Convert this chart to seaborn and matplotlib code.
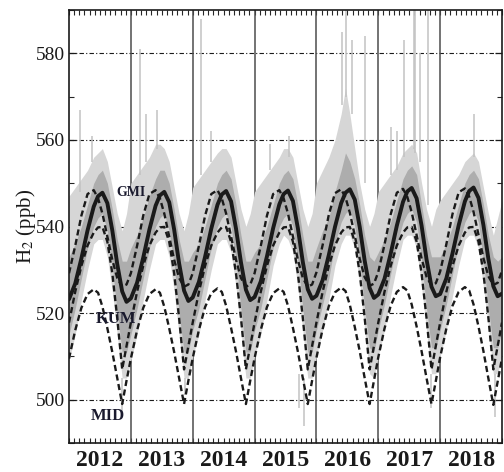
import numpy as np
import matplotlib
matplotlib.use('Agg')
import matplotlib.pyplot as plt
import seaborn as sns
from matplotlib.ticker import MultipleLocator

# time axis: 12 knots per year (fractions of the year), 2012-2018 + end point
years = [2012, 2013, 2014, 2015, 2016, 2017, 2018]
knots = [0.0, 0.1, 0.2, 0.3, 0.4, 0.47, 0.54, 0.62, 0.70, 0.78, 0.86, 0.93]

# thick black curve: fit to GMI observations (ppb)
gmi_fit = [
    [523.2, 526.8, 532.6, 539.1, 544.6, 547.0, 547.8, 545.4, 539.1, 531.3, 525.0, 522.6],
    [523.4, 527.0, 532.8, 539.3, 544.8, 547.2, 548.0, 545.6, 539.3, 531.5, 525.2, 522.8],
    [523.6, 527.2, 533.0, 539.5, 545.0, 547.4, 548.2, 545.8, 539.5, 531.7, 525.4, 523.0],
    [523.7, 527.3, 533.1, 539.6, 545.1, 547.5, 548.3, 545.9, 539.6, 531.8, 525.5, 523.3],
    [524.0, 527.6, 533.4, 539.9, 545.4, 547.8, 548.6, 546.2, 539.9, 532.1, 525.8, 523.5],
    [524.3, 527.9, 533.7, 540.2, 545.7, 548.1, 548.9, 546.5, 540.2, 532.4, 526.1, 523.9],
    [524.4, 528.0, 533.8, 540.3, 545.8, 548.2, 549.0, 546.6, 540.3, 532.5, 526.2, 523.9],
]
gmi_fit_end = 524.5

# dashed curves
gmi_dash = [
    [529.2, 535.5, 542.5, 547.5, 548.4, 546.5, 543.0, 537.7, 532.3, 528.1, 526.1, 526.6],
    [529.2, 535.5, 542.5, 547.5, 548.4, 546.5, 543.0, 537.7, 532.3, 528.1, 526.1, 526.6],
    [529.2, 535.5, 542.5, 547.5, 548.4, 546.5, 543.0, 537.7, 532.3, 528.1, 526.1, 526.6],
    [529.2, 535.5, 542.5, 547.5, 548.4, 546.5, 543.0, 537.7, 532.3, 528.1, 526.1, 526.6],
    [529.4, 535.7, 542.7, 547.7, 548.6, 546.7, 543.2, 537.9, 532.5, 528.3, 526.3, 526.8],
    [529.5, 535.8, 542.8, 547.8, 548.7, 546.8, 543.3, 538.0, 532.6, 528.4, 526.4, 526.9],
    [529.6, 535.9, 542.9, 547.9, 548.8, 546.9, 543.4, 538.1, 532.7, 528.5, 526.5, 527.0],
]
gmi_dash_end = 529.8

kum_dash = [
    [517.8, 524.9, 530.9, 535.6, 538.6, 539.8, 539.9, 536.5, 529.2, 518.9, 507.0, 512.4],
    [517.8, 524.9, 530.9, 535.6, 538.6, 539.8, 539.9, 536.5, 529.2, 518.9, 507.0, 512.4],
    [517.8, 524.9, 530.9, 535.6, 538.6, 539.8, 539.9, 536.5, 529.2, 518.9, 507.0, 512.4],
    [517.8, 524.9, 530.9, 535.6, 538.6, 539.8, 539.9, 536.5, 529.2, 518.9, 507.0, 512.4],
    [517.8, 524.9, 530.9, 535.6, 538.6, 539.8, 539.9, 536.5, 529.2, 518.9, 507.0, 512.4],
    [517.8, 524.9, 530.9, 535.6, 538.6, 539.8, 539.9, 536.5, 529.2, 518.9, 507.0, 512.4],
    [517.8, 524.9, 530.9, 535.6, 538.6, 539.8, 539.9, 536.5, 529.2, 518.9, 507.0, 512.4],
]
kum_dash_end = 517.8

mid_dash = [
    [509.5, 516.0, 521.2, 524.4, 525.5, 524.7, 521.5, 516.5, 511.0, 505.0, 499.0, 504.4],
    [509.5, 516.0, 521.2, 524.4, 525.5, 524.7, 521.5, 516.5, 511.0, 505.0, 499.0, 504.4],
    [509.6, 516.1, 521.4, 524.6, 525.7, 524.9, 521.7, 516.6, 511.1, 505.0, 499.0, 504.4],
    [509.6, 516.1, 521.4, 524.6, 525.7, 524.9, 521.7, 516.6, 511.1, 505.0, 499.0, 504.4],
    [509.7, 516.3, 521.6, 524.8, 525.9, 525.1, 521.9, 516.8, 511.2, 505.0, 499.0, 504.4],
    [509.8, 516.4, 521.7, 524.9, 526.0, 525.2, 522.0, 516.9, 511.2, 505.0, 499.0, 504.3],
    [509.8, 516.4, 521.7, 524.9, 526.0, 525.2, 522.0, 516.9, 511.2, 504.9, 498.8, 504.2],
]
mid_dash_end = 509.6

# grey observations: outer envelope and dense core
obs_hi = [
    [547, 549, 551, 553, 556, 557, 558, 555, 549, 543, 539, 543],
    [550, 552, 554, 556, 559, 559, 558, 555, 549, 543, 539, 543],
    [549, 551, 553, 555, 557, 558, 558, 556, 550, 544, 540, 543],
    [548, 550, 552, 554, 556, 558, 558, 556, 550, 544, 540, 543],
    [550, 553, 556, 560, 566, 572, 566, 558, 550, 544, 540, 543],
    [548, 550, 552, 554, 557, 558, 559, 557, 550, 544, 540, 544],
    [546, 548, 550, 552, 555, 556, 557, 555, 549, 543, 538, 542],
]
obs_hi_end = 546
obs_lo = [
    [509, 515, 523, 530, 536, 537, 537, 533, 525, 515, 505, 505],
    [509, 515, 523, 530, 536, 537, 537, 533, 525, 515, 505, 505],
    [510, 515, 523, 530, 536, 537, 537, 534, 526, 516, 505, 505],
    [510, 515, 523, 531, 536, 538, 537, 534, 526, 516, 505, 505],
    [510, 516, 523, 531, 536, 538, 538, 535, 527, 516, 506, 505],
    [510, 516, 524, 531, 537, 538, 538, 535, 526, 516, 506, 506],
    [510, 516, 524, 531, 537, 538, 538, 535, 526, 517, 506, 506],
]
obs_lo_end = 510
core_hi = [
    [533, 536, 540, 545, 550, 552, 553, 550, 544, 537, 532, 532],
    [535, 538, 542, 547, 551, 553, 553, 550, 544, 537, 532, 532],
    [534, 536, 540, 545, 550, 552, 553, 551, 545, 538, 532, 532],
    [534, 536, 540, 545, 550, 552, 553, 551, 545, 538, 532, 532],
    [535, 539, 542, 548, 553, 557, 555, 551, 545, 538, 533, 532],
    [534, 537, 541, 546, 551, 553, 554, 552, 545, 538, 533, 533],
    [533, 536, 540, 545, 550, 552, 553, 551, 545, 538, 533, 532],
]
core_hi_end = 533
core_lo = [
    [515, 521, 528, 535, 540, 542, 543, 539, 531, 520, 511, 511],
    [515, 521, 528, 535, 540, 542, 543, 539, 531, 520, 511, 511],
    [516, 521, 528, 535, 540, 542, 543, 540, 532, 521, 511, 511],
    [516, 521, 528, 535, 540, 542, 543, 540, 532, 521, 511, 511],
    [516, 522, 528, 536, 541, 543, 544, 540, 532, 521, 512, 511],
    [516, 522, 529, 536, 541, 543, 544, 541, 532, 521, 512, 512],
    [516, 522, 529, 536, 541, 543, 544, 541, 532, 521, 512, 512],
]
core_lo_end = 516

# isolated spikes in the observations (time, from, to)
spike_x = [2012.18, 2012.37, 2013.15, 2013.25, 2013.43, 2014.13, 2014.30, 2015.25,
           2015.55, 2016.42, 2016.47, 2016.57, 2016.78, 2017.20, 2017.30, 2017.42,
           2017.57, 2017.60, 2017.67, 2017.81, 2018.55,
           2012.85, 2013.88, 2015.72, 2015.80, 2017.85, 2018.89]
spike_from = [548, 555, 552, 555, 558, 552, 555, 553,
              556, 568, 570, 566, 550, 552, 553, 556,
              558, 557, 555, 545, 556,
              505, 505, 506, 505, 506, 506]
spike_to = [567, 561, 581, 566, 567, 588, 562, 559,
            561, 585, 592, 583, 584, 563, 562, 583,
            592, 592, 580, 592, 566,
            497, 501, 498, 494, 498, 496]


def flat(rows, end):
    return np.array([v for row in rows for v in row] + [end])


t = np.array([y + k for y in years for k in knots] + [2019.0])

sns.set_theme(style='ticks')
plt.rcParams['font.family'] = ['Liberation Serif', 'DejaVu Serif']
plt.rcParams['mathtext.fontset'] = 'stix'

fig = plt.figure(figsize=(5.04, 4.72), dpi=100)
ax = fig.add_axes([69 / 504, 29 / 472, 433 / 504, 433 / 472])

# reference lines
for v in [500, 520, 540, 560, 580]:
    ax.axhline(v, color='k', lw=0.8, ls=(0, (4, 2, 1, 2)), zorder=1)
for y in years[1:]:
    ax.axvline(y, color='#4d4d4d', lw=1.1, zorder=1)

# grey observations
ax.fill_between(t, flat(obs_lo, obs_lo_end), flat(obs_hi, obs_hi_end),
                color='#d6d6d6', lw=0, zorder=2)
ax.fill_between(t, flat(core_lo, core_lo_end), flat(core_hi, core_hi_end),
                color='#adadad', lw=0, zorder=2.1)
ax.vlines(spike_x, spike_from, spike_to, color='#c2c2c2', lw=1.1, zorder=2)

dash = (0, (2.6, 1.5))
sns.lineplot(x=t, y=flat(gmi_dash, gmi_dash_end), color='k', lw=1.7, linestyle=dash, ax=ax, zorder=3)
sns.lineplot(x=t, y=flat(kum_dash, kum_dash_end), color='k', lw=1.7, linestyle=dash, ax=ax, zorder=3)
sns.lineplot(x=t, y=flat(mid_dash, mid_dash_end), color='k', lw=1.7, linestyle=dash, ax=ax, zorder=3)
sns.lineplot(x=t, y=flat(gmi_fit, gmi_fit_end), color='k', lw=2.8, ax=ax, zorder=4)

lab_col = '#1a1a2e'
ax.text(2012.999, 547.8, 'GMI', ha='center', va='center', fontsize=10,
        fontweight='bold', color=lab_col, zorder=5)
ax.text(2012.757, 518.6, 'KUM', ha='center', va='center', fontsize=12,
        fontweight='bold', color=lab_col, zorder=5)
ax.text(2012.635, 496.3, 'MID', ha='center', va='center', fontsize=12,
        fontweight='bold', color=lab_col, zorder=5)

ax.set_xlim(2012, 2019)
ax.set_ylim(490, 590)
ax.set_xticks([y + 0.5 for y in years])
ax.set_xticklabels([str(y) for y in years], fontsize=17, fontweight='bold')
ax.xaxis.set_minor_locator(MultipleLocator(1 / 12))
ax.xaxis.remove_overlapping_locs = False
ax.tick_params(axis='x', which='major', length=0, pad=5, colors='k')
ax.tick_params(axis='x', which='minor', direction='in', length=3.5, width=0.8,
               top=True, bottom=True)
ax.set_yticks([500, 520, 540, 560, 580])
ax.yaxis.set_minor_locator(MultipleLocator(10))
ax.tick_params(axis='y', which='major', direction='in', length=5, width=0.9,
               left=True, right=True, labelsize=14, pad=3, colors='k')
ax.tick_params(axis='y', which='minor', direction='in', length=3.5, width=0.8,
               left=True, right=True)
ax.set_xlabel('')
ax.set_ylabel('H$_2$ (ppb)', fontsize=15, labelpad=-2, color='k')
for s in ax.spines.values():
    s.set_color('k')
    s.set_linewidth(1.2)

fig.savefig('out.png', dpi=100)
